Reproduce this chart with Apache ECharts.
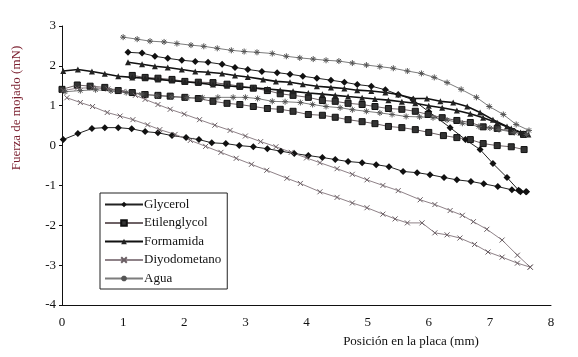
<!DOCTYPE html>
<html>
<head>
<meta charset="utf-8">
<script src="https://cdn.jsdelivr.net/npm/echarts@6/dist/echarts.min.js"></script>
<style>
  html, body { margin: 0; padding: 0; background: #fff; }
  #main { width: 578px; height: 357px; }
</style>
</head>
<body>
<div id="main"></div>
<script>
// Glycerol
var glycerolUpX = [1.08,1.31,1.52,1.73,1.96,2.18,2.39,2.62,2.83,3.04,3.27,3.52,3.73,3.94,4.17,4.40,4.62,4.83,5.06,5.29,5.50,5.74,6.00,6.35,6.60,6.84,7.05,7.28,7.47,7.60];
var glycerolUpY = [2.34,2.32,2.24,2.19,2.14,2.11,2.09,2.04,1.96,1.91,1.86,1.83,1.79,1.74,1.69,1.64,1.59,1.53,1.49,1.40,1.28,1.15,0.85,0.45,0.15,-0.10,-0.45,-0.80,-1.12,-1.16];
var glycerolLowX = [0.02,0.26,0.49,0.70,0.92,1.14,1.36,1.57,1.80,2.03,2.24,2.45,2.68,2.90,3.13,3.36,3.58,3.80,4.03,4.26,4.47,4.68,4.91,5.14,5.35,5.58,5.81,6.02,6.25,6.46,6.69,6.90,7.13,7.36,7.50,7.59];
var glycerolLowY = [0.15,0.30,0.43,0.45,0.45,0.42,0.35,0.32,0.25,0.20,0.15,0.07,0.05,0.00,-0.03,-0.08,-0.14,-0.20,-0.25,-0.30,-0.35,-0.40,-0.43,-0.48,-0.53,-0.65,-0.68,-0.73,-0.80,-0.86,-0.90,-0.96,-1.03,-1.11,-1.16,-1.16];

// Etilenglycol
var etilUpX = [1.15,1.36,1.57,1.80,2.01,2.23,2.47,2.70,2.91,3.13,3.36,3.57,3.78,4.03,4.26,4.47,4.68,4.91,5.12,5.34,5.56,5.78,5.99,6.22,6.46,6.68,6.89,7.12,7.36,7.55];
var etilUpY = [1.76,1.71,1.69,1.66,1.61,1.59,1.58,1.54,1.49,1.44,1.38,1.30,1.26,1.21,1.13,1.11,1.06,1.03,0.98,0.93,0.91,0.86,0.78,0.70,0.63,0.58,0.47,0.43,0.35,0.28];
var etilLowX = [0.00,0.25,0.46,0.70,0.92,1.15,1.36,1.57,1.77,2.01,2.23,2.47,2.70,2.91,3.13,3.36,3.57,3.78,4.03,4.26,4.47,4.68,4.91,5.12,5.34,5.56,5.78,6.00,6.24,6.46,6.68,6.89,7.12,7.35,7.56];
var etilLowY = [1.41,1.52,1.49,1.46,1.38,1.33,1.28,1.26,1.24,1.21,1.18,1.11,1.06,1.03,0.98,0.93,0.91,0.86,0.78,0.76,0.71,0.65,0.60,0.55,0.48,0.45,0.40,0.33,0.25,0.20,0.15,0.05,0.00,-0.03,-0.10];

// Formamida
var formUpX = [1.08,1.31,1.52,1.73,1.96,2.18,2.39,2.62,2.83,3.04,3.29,3.50,3.73,3.94,4.17,4.40,4.62,4.83,5.06,5.29,5.50,5.75,5.97,6.19,6.40,6.63,6.84,7.05,7.28,7.50,7.63];
var formUpY = [2.09,2.04,1.99,1.96,1.91,1.86,1.84,1.81,1.76,1.72,1.66,1.61,1.59,1.54,1.49,1.46,1.43,1.39,1.37,1.33,1.28,1.18,1.18,1.11,1.08,0.98,0.83,0.65,0.48,0.33,0.28];
var formLowX = [0.02,0.26,0.49,0.70,0.92,1.15,1.36,1.57,1.80,2.01,2.23,2.47,2.70,2.91,3.13,3.36,3.57,3.78,4.03,4.26,4.47,4.68,4.91,5.12,5.34,5.56,5.78,6.00,6.22,6.46,6.68,6.89,7.12,7.35,7.55];
var formLowY = [1.87,1.91,1.86,1.80,1.74,1.71,1.69,1.66,1.63,1.60,1.57,1.53,1.50,1.47,1.45,1.42,1.39,1.36,1.32,1.29,1.26,1.23,1.20,1.17,1.14,1.10,1.06,1.00,0.95,0.88,0.80,0.70,0.57,0.43,0.30];

// Diyodometano
var diyoUpX = [0.02,0.25,0.50,0.75,1.00,1.20,1.36,1.57,1.77,2.00,2.25,2.50,2.75,3.00,3.25,3.50,3.75,4.00,4.22,4.50,4.75,4.99,5.25,5.50,5.86,6.10,6.35,6.55,6.73,6.95,7.20,7.45,7.66];
var diyoUpY = [1.38,1.44,1.45,1.42,1.36,1.26,1.16,1.03,0.91,0.79,0.65,0.51,0.38,0.24,0.10,-0.03,-0.17,-0.31,-0.43,-0.58,-0.72,-0.86,-1.00,-1.13,-1.36,-1.48,-1.63,-1.75,-1.91,-2.10,-2.37,-2.75,-3.05];
var diyoLowX = [0.08,0.30,0.50,0.74,0.95,1.16,1.40,1.60,1.85,2.10,2.35,2.60,2.85,3.10,3.35,3.68,3.90,4.22,4.50,4.75,4.99,5.25,5.45,5.65,5.89,6.10,6.30,6.51,6.75,6.97,7.20,7.45,7.66];
var diyoLowY = [1.20,1.08,0.98,0.83,0.74,0.65,0.52,0.40,0.28,0.13,-0.02,-0.17,-0.32,-0.47,-0.62,-0.82,-0.95,-1.16,-1.30,-1.44,-1.56,-1.72,-1.84,-1.94,-1.94,-2.19,-2.24,-2.32,-2.48,-2.67,-2.80,-2.95,-3.05];

// Agua
var aguaUpX = [1.00,1.23,1.44,1.67,1.88,2.11,2.32,2.54,2.77,2.98,3.19,3.44,3.67,3.89,4.11,4.32,4.53,4.75,4.98,5.20,5.42,5.65,5.88,6.09,6.30,6.53,6.78,6.99,7.22,7.43,7.64];
var aguaUpY = [2.72,2.67,2.62,2.60,2.56,2.52,2.49,2.44,2.39,2.36,2.34,2.31,2.24,2.20,2.17,2.14,2.12,2.07,2.02,1.98,1.94,1.87,1.81,1.71,1.58,1.41,1.21,0.98,0.78,0.53,0.38];
var aguaLowX = [0.05,0.30,0.55,0.80,1.05,1.30,1.55,1.80,2.05,2.30,2.55,2.80,3.00,3.20,3.44,3.65,3.90,4.10,4.32,4.55,4.75,4.98,5.20,5.40,5.63,5.85,6.07,6.30,6.55,6.82,7.00,7.15,7.40,7.60];
var aguaLowY = [1.35,1.38,1.40,1.37,1.33,1.29,1.25,1.22,1.20,1.20,1.21,1.21,1.21,1.18,1.11,1.10,1.08,1.03,0.98,0.95,0.90,0.86,0.82,0.78,0.73,0.72,0.70,0.64,0.56,0.48,0.44,0.40,0.33,0.28];

var names = ['Glycerol', 'Etilenglycol', 'Formamida', 'Diyodometano', 'Agua'];
var xTicks = [0, 1, 2, 3, 4, 5, 6, 7, 8];
var yTicks = [-4, -3, -2, -1, 0, 1, 2, 3];

function pairs(xs, ys) {
  return xs.map(function (x, i) { return [x, ys[i]]; });
}

var crossSym = 'path://M0,0L10,10M10,0L0,10';
var starSym = 'path://M0,5L10,5M5,0L5,10M1.5,1.5L8.5,8.5M8.5,1.5L1.5,8.5';

var styles = {
  'Glycerol':     { symbol: 'diamond',  size: 7, line: '#222', width: 1,   item: { color: '#111' } },
  'Etilenglycol': { symbol: 'rect',     size: 6, line: '#6e6265', width: 1, item: { color: '#333', borderColor: '#111', borderWidth: 1 } },
  'Formamida':    { symbol: 'triangle', size: 6, line: '#111', width: 1.6, item: { color: '#222' } },
  'Diyodometano': { symbol: crossSym,   size: 5, line: '#8f8288', width: 1, item: { color: 'none', borderColor: '#6a5f64', borderWidth: 1 } },
  'Agua':         { symbol: starSym,    size: 6, line: '#7d7d7d', width: 1, item: { color: 'none', borderColor: '#555', borderWidth: 1 } }
};

function mk(name, xs, ys) {
  var s = styles[name];
  return {
    name: name,
    type: 'line',
    data: pairs(xs, ys),
    symbol: s.symbol,
    symbolSize: s.size,
    showAllSymbol: true,
    lineStyle: { color: s.line, width: s.width },
    itemStyle: s.item,
    z: 2
  };
}

var chart = echarts.init(document.getElementById('main'));
var font = 'Liberation Serif';

var option = {
  animation: false,
  backgroundColor: '#fff',
  textStyle: { fontFamily: font },
  grid: { left: 62, right: 27, top: 26, bottom: 52 },
  legend: {
    data: names,
    orient: 'vertical',
    left: 100,
    top: 193,
    itemWidth: 38,
    itemHeight: 7,
    itemGap: 5.5,
    padding: [5, 6, 4, 4],
    borderColor: '#222',
    borderWidth: 1,
    textStyle: { fontFamily: font, fontSize: 13, color: '#111', padding: [0, 0, 0, -4] }
  },
  xAxis: {
    type: 'value',
    min: xTicks[0],
    max: xTicks[xTicks.length - 1],
    interval: 1,
    splitLine: { show: false },
    axisLine: { onZero: false, lineStyle: { color: '#111', width: 1 } },
    axisTick: { show: false },
    axisLabel: { color: '#111', fontSize: 13, fontFamily: font, margin: 11 }
  },
  yAxis: {
    type: 'value',
    min: yTicks[0],
    max: yTicks[yTicks.length - 1],
    interval: 1,
    splitLine: { show: false },
    axisLine: { show: true, onZero: false, lineStyle: { color: '#111', width: 1 } },
    axisTick: { show: true, length: 3, lineStyle: { color: '#111' } },
    axisLabel: { color: '#111', fontSize: 13, fontFamily: font, margin: 6 }
  },
  graphic: [
    {
      type: 'text',
      x: 17, y: 108,
      rotation: Math.PI / 2,
      style: {
        text: 'Fuerza de mojado (mN)',
        fill: '#7a1e2e',
        font: '13px "Liberation Serif"',
        textAlign: 'center',
        textVerticalAlign: 'middle'
      }
    },
    {
      type: 'text',
      x: 411, y: 342,
      style: {
        text: 'Posición en la placa (mm)',
        fill: '#111',
        font: '13px "Liberation Serif"',
        textAlign: 'center',
        textVerticalAlign: 'middle'
      }
    }
  ],
  series: [
    mk('Glycerol', glycerolUpX, glycerolUpY),
    mk('Glycerol', glycerolLowX, glycerolLowY),
    mk('Etilenglycol', etilUpX, etilUpY),
    mk('Etilenglycol', etilLowX, etilLowY),
    mk('Formamida', formUpX, formUpY),
    mk('Formamida', formLowX, formLowY),
    mk('Diyodometano', diyoUpX, diyoUpY),
    mk('Diyodometano', diyoLowX, diyoLowY),
    mk('Agua', aguaUpX, aguaUpY),
    mk('Agua', aguaLowX, aguaLowY)
  ]
};

chart.setOption(option);
</script>
</body>
</html>
